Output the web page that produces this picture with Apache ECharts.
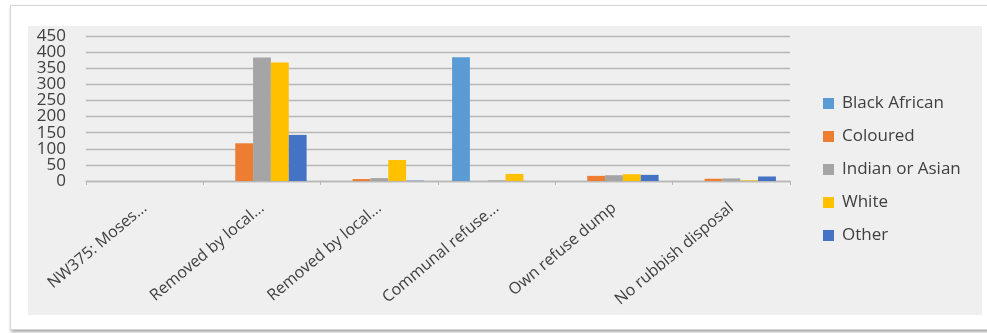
<!DOCTYPE html>
<html>
<head>
<meta charset="utf-8">
<title>Refuse removal by population group</title>
<script src="https://cdn.jsdelivr.net/npm/echarts@6/dist/echarts.min.js"></script>
<style>
  html, body { margin: 0; padding: 0; background: #ffffff; }
  #wrap { position: relative; width: 987px; height: 333px; overflow: hidden; }
  #card {
    position: absolute; left: 10px; top: 5px; width: 990px; height: 323px;
    background: #ffffff; border: 1px solid #d6d6d6;
    box-shadow: 1px 2px 3px rgba(0,0,0,0.35);
  }
  #panel {
    position: absolute; left: 28px; top: 26px; width: 954px; height: 289px;
    background: #efefef;
  }
  #chart { position: absolute; left: 0; top: 0; width: 987px; height: 333px; }
</style>
</head>
<body>
<div id="wrap">
  <div id="card"></div>
  <div id="panel"></div>
  <div id="chart"></div>
</div>
<script>
// Household refuse removal, counted per population group
const categories = [
  'NW375: Moses...',
  'Removed by local...',
  'Removed by local...',
  'Communal refuse...',
  'Own refuse dump',
  'No rubbish disposal'
];
const blackAfrican  = [0, 0, 0, 384, 0, 0];
const coloured      = [0, 117, 6, 0, 16, 7];
const indianOrAsian = [0, 383, 9, 2, 18, 8];
const white         = [0, 368, 65, 22, 21, 2];
const other         = [0, 143, 1, 0, 19, 14];
const yTicks = { min: 0, max: 450, interval: 50 };

const seriesDefs = [
  { name: 'Black African',   data: blackAfrican,  color: '#5b9bd5' },
  { name: 'Coloured',        data: coloured,      color: '#ed7d31' },
  { name: 'Indian or Asian', data: indianOrAsian, color: '#a5a5a5' },
  { name: 'White',           data: white,         color: '#ffc000' },
  { name: 'Other',           data: other,         color: '#4472c4' }
];

const yLabelStyle = { fontSize: 17, color: '#404040', margin: 20 };

const chart = echarts.init(document.getElementById('chart'), null, { renderer: 'canvas' });
chart.setOption({
  backgroundColor: 'transparent',
  animation: false,
  textStyle: { fontFamily: '"Open Sans", sans-serif' },
  grid: { left: 86, right: 197, top: 36, bottom: 152, containLabel: false },
  legend: {
    orient: 'vertical',
    left: 818,
    top: 90,
    itemWidth: 11,
    itemHeight: 11,
    itemGap: 16,
    icon: 'rect',
    textStyle: { fontSize: 17, color: '#404040', padding: [0, 0, 0, 3] },
    data: seriesDefs.map(s => s.name)
  },
  xAxis: {
    type: 'category',
    data: categories,
    boundaryGap: true,
    axisLine: { lineStyle: { color: '#b8b8b8', width: 1.3 } },
    axisTick: { show: true, length: 4, lineStyle: { color: '#b8b8b8' } },
    axisLabel: {
      interval: 0,
      rotate: 40,
      fontSize: 16,
      color: '#404040',
      margin: 25
    }
  },
  yAxis: [
    {
      // inner tick labels and gridlines
      type: 'value',
      position: 'left',
      min: yTicks.min,
      max: yTicks.max,
      interval: yTicks.interval,
      axisLine: { show: false },
      axisTick: { show: false },
      splitLine: { lineStyle: { color: '#b8b8b8', width: 1.3 } },
      axisLabel: Object.assign({ showMinLabel: false, showMaxLabel: false }, yLabelStyle)
    },
    {
      // end labels (0 and 450) on the same left edge
      type: 'value',
      position: 'left',
      offset: 0,
      min: yTicks.min,
      max: yTicks.max,
      interval: yTicks.interval,
      axisLine: { show: false },
      axisTick: { show: false },
      splitLine: { show: false },
      axisLabel: Object.assign({
        showMinLabel: true,
        showMaxLabel: true,
        formatter: v => (v === yTicks.min || v === yTicks.max) ? String(v) : ''
      }, yLabelStyle)
    }
  ],
  series: seriesDefs.map(s => ({
    name: s.name,
    type: 'bar',
    yAxisIndex: 0,
    data: s.data,
    barGap: '0%',
    barCategoryGap: '24%',
    itemStyle: { color: s.color }
  }))
});
</script>
</body>
</html>
